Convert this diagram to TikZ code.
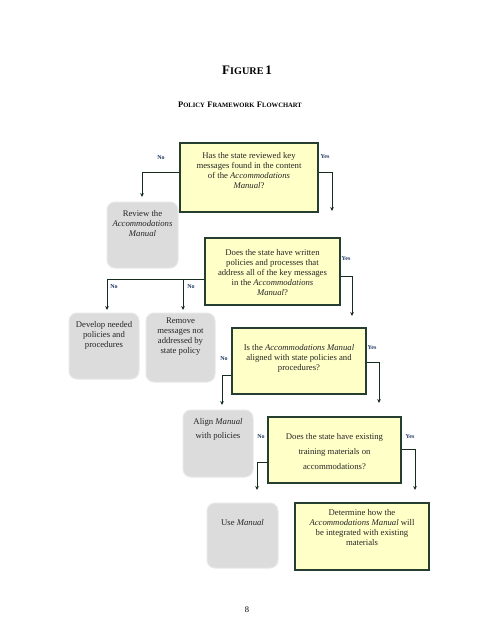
\documentclass[tikz,border=0pt]{standalone}
\usepackage{fontspec}
\setmainfont{Liberation Serif}
\usetikzlibrary{arrows.meta,fit}
\definecolor{yfill}{RGB}{255,255,200}
\definecolor{yedge}{RGB}{38,62,48}
\definecolor{gfill}{RGB}{220,220,220}
\definecolor{gedge}{RGB}{232,232,232}
\definecolor{navy}{RGB}{31,56,100}
\definecolor{conncol}{RGB}{22,44,28}
\tikzset{
  ybox/.style={draw=yedge, line width=1.1pt, fill=yfill, inner sep=0pt},
  gbox/.style={draw=gedge, line width=1pt, fill=gfill, rounded corners=8pt, inner sep=0pt},
  txt/.style={font=\fontsize{8.7}{10}\selectfont, align=center, text=black!85, inner sep=0pt},
  wtxt/.style={font=\fontsize{8.7}{15}\selectfont, align=center, text=black!85, inner sep=0pt},
  lab/.style={font=\bfseries\fontsize{6}{7}\selectfont, text=navy, inner sep=0pt},
  conn/.style={draw=conncol, line width=1pt, -{Stealth[length=4pt,width=3.6pt]}},
  ttl/.style={inner sep=0pt, text=black}
}
\begin{document}
\begin{tikzpicture}[x=1pt,y=-1pt]
\useasboundingbox[fill=white] (0,0) rectangle (495,640);

% titles
\node[ttl] (title) at (247,70) {\bfseries{\fontsize{13}{15}\selectfont F}{\fontsize{10.2}{15}\selectfont IGURE}\,{\fontsize{13}{15}\selectfont 1}};
\node[ttl] (sub) at (240,105) {\bfseries{\fontsize{8.5}{10}\selectfont P}{\fontsize{6.6}{10}\selectfont OLICY} {\fontsize{8.5}{10}\selectfont F}{\fontsize{6.6}{10}\selectfont RAMEWORK} {\fontsize{8.5}{10}\selectfont F}{\fontsize{6.6}{10}\selectfont LOWCHART}};

% question boxes
\node[ybox, fit={(180,143) (318,212)}] (q1) {};
\node[txt, anchor=north] (q1t) at (249,152) {Has the state reviewed key\\messages found in the content\\of the \emph{Accommodations}\\\emph{Manual}?};

\node[ybox, fit={(205,238) (340,305)}] (q2) {};
\node[txt] (q2t) at (272.5,273) {Does the state have written\\policies and processes that\\address all of the key messages\\in the \emph{Accommodations}\\\emph{Manual}?};

\node[ybox, fit={(232,328) (366,394)}] (q3) {};
\node[txt] (q3t) at (299,358) {Is the \emph{Accommodations Manual}\\aligned with state policies and\\procedures?};

\node[ybox, fit={(268,417) (401,483)}] (q4) {};
\node[wtxt] (q4t) at (334.5,452) {Does the state have existing\\training materials on\\accommodations?};

\node[ybox, fit={(295,503) (429,570)}] (det) {};
\node[txt] (dett) at (362,528) {Determine how the\\\emph{Accommodations Manual} will\\be integrated with existing\\materials};

% gray action boxes
\node[gbox, fit={(107,202) (178,268)}] (review) {};
\node[txt, anchor=north] (reviewt) at (142.5,210) {Review the\\\emph{Accommodations}\\\emph{Manual}};

\node[gbox, fit={(69,313) (139,379)}] (develop) {};
\node[txt, anchor=north] (developt) at (104,321) {Develop needed\\policies and\\procedures};

\node[gbox, fit={(146,313) (215,382)}] (remove) {};
\node[txt, anchor=north] (removet) at (180.5,318) {Remove\\messages not\\addressed by\\state policy};

\node[gbox, fit={(183,410) (253,477)}] (align) {};
\node[txt, font=\fontsize{8.7}{14}\selectfont, anchor=north] (alignt) at (218,418) {Align \emph{Manual}\\with policies};

\node[gbox, fit={(207,503) (278,568)}] (use) {};
\node[txt, anchor=north] (uset) at (242.5,519) {Use \emph{Manual}};

% connector end points
\coordinate (e1n) at (142,197);
\coordinate (e1y) at (332,211);
\coordinate (e2a) at (107,310);
\coordinate (e2b) at (183,310);
\coordinate (e2y) at (352,316);
\coordinate (e3n) at (222,405);
\coordinate (e3y) at (379,403);
\coordinate (e4n) at (257,490);
\coordinate (e4y) at (415,490);
\coordinate (j2) at ([yshift=-7.5pt]q2.west);

% connectors
\draw[conn] ([yshift=5.5pt]q1.west) -| (e1n);
\draw[conn] ([yshift=5.5pt]q1.east) -| (e1y);
\draw[conn] (j2) -| (e2a);
\draw[conn] (e2b |- j2) -- (e2b);
\draw[conn] ([yshift=-4.5pt]q2.east) -| (e2y);
\draw[conn] ([yshift=-14pt]q3.west) -| (e3n);
\draw[conn] ([yshift=-1pt]q3.east) -| (e3y);
\draw[conn] ([yshift=-12pt]q4.west) -| (e4n);
\draw[conn] ([yshift=1pt]q4.east) -| (e4y);

% labels
\node[lab] (l1n) at (161,158) {No};
\node[lab] (l1y) at (325,157) {Yes};
\node[lab] (l2a) at (114,287) {No};
\node[lab] (l2b) at (191,287) {No};
\node[lab] (l2y) at (346,259) {Yes};
\node[lab] (l3n) at (224,359) {No};
\node[lab] (l3y) at (372,348) {Yes};
\node[lab] (l4n) at (261,437) {No};
\node[lab] (l4y) at (410,437) {Yes};

% page number
\node[ttl, font=\fontsize{8.5}{10}\selectfont] (page) at (247,610) {8};
\end{tikzpicture}
\end{document}
